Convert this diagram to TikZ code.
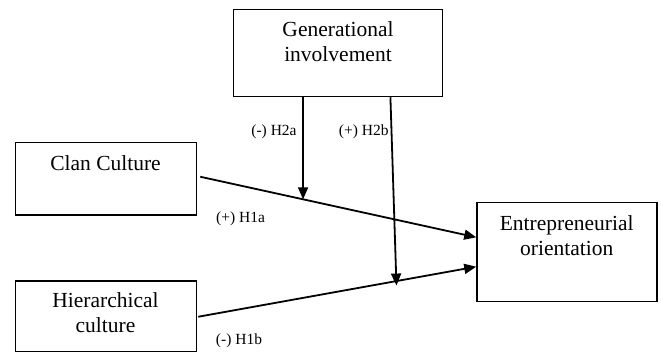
\documentclass[tikz,border=0pt]{standalone}
\usepackage{fontspec}
\setmainfont{Liberation Serif}
\usetikzlibrary{arrows.meta,calc}
\begin{document}
\begin{tikzpicture}[x=1pt,y=-1pt,
  box/.style={draw,line width=1.5pt,rectangle,inner sep=0pt},
  boxtext/.style={align=center,inner sep=0pt,font=\fontsize{21.5}{25}\selectfont},
  hyp/.style={inner sep=0pt,font=\fontsize{15.5}{17}\selectfont},
  link/.style={line width=1.8pt,-{Triangle[length=12pt,width=10pt]}}]
\useasboundingbox (0,0) rectangle (661,353);
\node[box,minimum width=209pt,minimum height=87pt] (gen) at (338,53) {};
\node[box,minimum width=181pt,minimum height=72.5pt] (clan) at (106,178.75) {};
\node[box,minimum width=181pt,minimum height=70.5pt] (hier) at (106,316.25) {};
\node[box,minimum width=180pt,minimum height=99pt] (eo) at (567,252) {};
\node[boxtext] (gent) at (338,41.5) {Generational\\involvement};
\node[boxtext] (clant) at (105.5,163) {Clan Culture};
\node[boxtext] (hiert) at (105.5,313) {Hierarchical\\culture};
\node[boxtext] (eot) at (566.7,235.5) {Entrepreneurial\\orientation};
\node[hyp] (h2a) at (274,131.7) {(-) H2a};
\node[hyp] (h2b) at (363.7,131.7) {(+) H2b};
\node[hyp] (h1a) at (240.5,219) {(+) H1a};
\node[hyp] (h1b) at (239,340.7) {(-) H1b};
\draw[link] ($(clan.east)+(3,-2)$) -- coordinate[pos=0.373] (m1) ($(eo.west)+(0,-14.7)$);
\draw[link] ($(hier.east)+(1,0.5)$) -- coordinate[pos=0.713] (m2) ($(eo.west)+(0,14.7)$);
\coordinate (g1) at ($(gen.south west)!0.334!(gen.south east)$);
\coordinate (g2) at ($(gen.south west)!0.749!(gen.south east)$);
\coordinate (m2b) at ($(m2)+(0,4.5)$);
\draw[link] (g1) -- (g1 |- m1);
\draw[link] (g2) -- (m2b);
\end{tikzpicture}
\end{document}
